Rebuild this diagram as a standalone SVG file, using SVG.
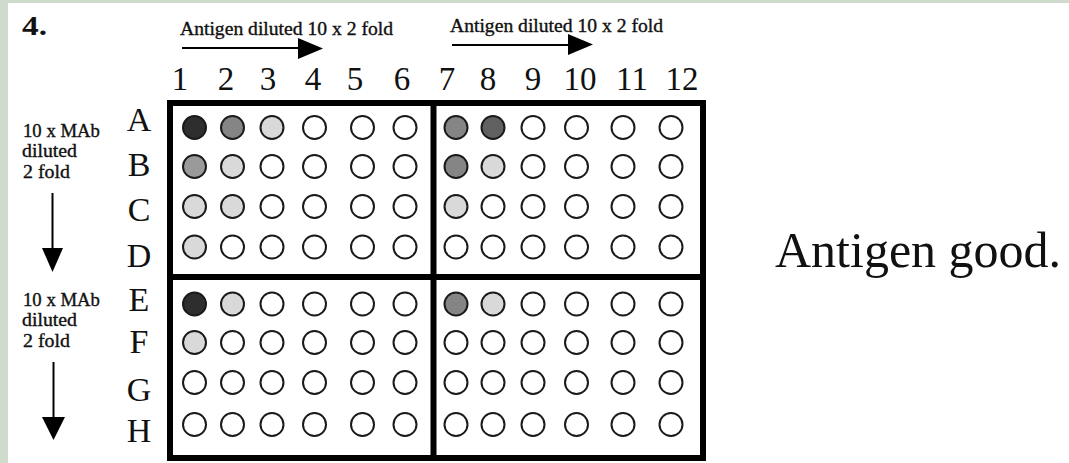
<svg xmlns="http://www.w3.org/2000/svg" width="1069" height="463" viewBox="0 0 1069 463">
<defs>
<style>
.t{font-family:"Liberation Serif","Times New Roman",serif;fill:#111}
.s{font-size:18px;stroke:#111;stroke-width:0.35}
.num{font-size:33px;text-anchor:middle}
.row{font-size:34px;text-anchor:middle}
.w{stroke:#1a1a1a;stroke-width:2;fill:#fff}
.d1{fill:#2e2e2e}
.d2{fill:#606060}
.d3{fill:#858585}
.d4{fill:#9a9a9a}
.lt{fill:#d9d9d9}
.frame{fill:none;stroke:#000;stroke-width:6}
.ln{stroke:#000;stroke-width:2;fill:none}
</style>
</defs>
<rect x="0" y="0" width="1069" height="463" fill="#fff"/>
<rect x="0" y="0" width="1069" height="3" fill="#cfdbcd"/>
<rect x="0" y="0" width="8" height="463" fill="#cfdbcd"/>

<g id="title"><text class="t" x="22" y="35" font-size="28" font-weight="bold" textLength="25" lengthAdjust="spacingAndGlyphs">4.</text></g>

<g id="col-labels" class="t num">
<text x="180" y="90">1</text><text x="226" y="90">2</text><text x="268" y="90">3</text>
<text x="313" y="90">4</text><text x="355" y="90">5</text><text x="402" y="90">6</text>
<text x="447" y="90">7</text><text x="488" y="90">8</text><text x="533" y="90">9</text>
<text x="580" y="90">10</text><text x="632" y="90">11</text><text x="682" y="90">12</text>
</g>

<g id="row-labels" class="t row">
<text x="139" y="131">A</text><text x="139" y="176">B</text><text x="139" y="221">C</text><text x="139" y="267">D</text>
<text x="139" y="311">E</text><text x="139" y="353">F</text><text x="139" y="401">G</text><text x="139" y="442">H</text>
</g>

<g id="antigen-label-1"><text class="t s" x="180" y="35" textLength="213" lengthAdjust="spacingAndGlyphs">Antigen diluted 10 x 2 fold</text></g>
<g id="antigen-label-2"><text class="t s" x="450" y="32" textLength="213" lengthAdjust="spacingAndGlyphs">Antigen diluted 10 x 2 fold</text></g>

<g id="mab-label-1" class="t s">
<text x="23" y="137" textLength="77" lengthAdjust="spacingAndGlyphs">10 x MAb</text>
<text x="22" y="157" textLength="55" lengthAdjust="spacingAndGlyphs">diluted</text>
<text x="23" y="178" textLength="47" lengthAdjust="spacingAndGlyphs">2 fold</text>
</g>
<g id="mab-label-2" class="t s">
<text x="23" y="306" textLength="77" lengthAdjust="spacingAndGlyphs">10 x MAb</text>
<text x="22" y="326" textLength="55" lengthAdjust="spacingAndGlyphs">diluted</text>
<text x="23" y="347" textLength="47" lengthAdjust="spacingAndGlyphs">2 fold</text>
</g>

<g id="connectors">
<line class="ln" x1="182" y1="48" x2="300" y2="48"/>
<polygon points="298,38 323,48.5 298,59" fill="#000"/>
<line class="ln" x1="452" y1="45" x2="570" y2="45"/>
<polygon points="568,34 593,44.5 568,55" fill="#000"/>
<line class="ln" x1="52.5" y1="193" x2="52.5" y2="250"/>
<polygon points="42,248 63,248 52.5,272" fill="#000"/>
<line class="ln" x1="53.5" y1="362" x2="53.5" y2="419"/>
<polygon points="42,417 65,417 53.5,440" fill="#000"/>
</g>

<g id="plate">
<rect class="frame" x="170" y="103" width="533" height="355"/>
<line stroke="#000" stroke-width="6" x1="433.5" y1="103" x2="433.5" y2="458"/>
<line stroke="#000" stroke-width="6" x1="170" y1="277" x2="703" y2="277"/>
</g>

<g id="quadrant-top-left">
<circle class="w d1" cx="194.5" cy="127.5" r="11.5"/><circle class="w d3" cx="232.5" cy="127.5" r="11.5"/><circle class="w lt" cx="272" cy="127.5" r="11.5"/><circle class="w" cx="314.5" cy="127.5" r="11.5"/><circle class="w" cx="362.5" cy="127.5" r="11.5"/><circle class="w" cx="405" cy="127.5" r="11.5"/>
<circle class="w d4" cx="194.5" cy="166.5" r="11.5"/><circle class="w lt" cx="232.5" cy="166.5" r="11.5"/><circle class="w" cx="272" cy="166.5" r="11.5"/><circle class="w" cx="314.5" cy="166.5" r="11.5"/><circle class="w" cx="362.5" cy="166.5" r="11.5"/><circle class="w" cx="405" cy="166.5" r="11.5"/>
<circle class="w lt" cx="194.5" cy="206.5" r="11.5"/><circle class="w lt" cx="232.5" cy="206.5" r="11.5"/><circle class="w" cx="272" cy="206.5" r="11.5"/><circle class="w" cx="314.5" cy="206.5" r="11.5"/><circle class="w" cx="362.5" cy="206.5" r="11.5"/><circle class="w" cx="405" cy="206.5" r="11.5"/>
<circle class="w lt" cx="194.5" cy="247" r="11.5"/><circle class="w" cx="232.5" cy="247" r="11.5"/><circle class="w" cx="272" cy="247" r="11.5"/><circle class="w" cx="314.5" cy="247" r="11.5"/><circle class="w" cx="362.5" cy="247" r="11.5"/><circle class="w" cx="405" cy="247" r="11.5"/>
</g>

<g id="quadrant-top-right">
<circle class="w d3" cx="456" cy="127.5" r="11.5"/><circle class="w d2" cx="493" cy="127.5" r="11.5"/><circle class="w" cx="533" cy="127.5" r="11.5"/><circle class="w" cx="576.5" cy="127.5" r="11.5"/><circle class="w" cx="623" cy="127.5" r="11.5"/><circle class="w" cx="671" cy="127.5" r="11.5"/>
<circle class="w d3" cx="456" cy="166.5" r="11.5"/><circle class="w lt" cx="493" cy="166.5" r="11.5"/><circle class="w" cx="533" cy="166.5" r="11.5"/><circle class="w" cx="576.5" cy="166.5" r="11.5"/><circle class="w" cx="623" cy="166.5" r="11.5"/><circle class="w" cx="671" cy="166.5" r="11.5"/>
<circle class="w lt" cx="456" cy="206.5" r="11.5"/><circle class="w" cx="493" cy="206.5" r="11.5"/><circle class="w" cx="533" cy="206.5" r="11.5"/><circle class="w" cx="576.5" cy="206.5" r="11.5"/><circle class="w" cx="623" cy="206.5" r="11.5"/><circle class="w" cx="671" cy="206.5" r="11.5"/>
<circle class="w" cx="456" cy="247" r="11.5"/><circle class="w" cx="493" cy="247" r="11.5"/><circle class="w" cx="533" cy="247" r="11.5"/><circle class="w" cx="576.5" cy="247" r="11.5"/><circle class="w" cx="623" cy="247" r="11.5"/><circle class="w" cx="671" cy="247" r="11.5"/>
</g>

<g id="quadrant-bottom-left">
<circle class="w d1" cx="194.5" cy="304" r="11.5"/><circle class="w lt" cx="232.5" cy="304" r="11.5"/><circle class="w" cx="272" cy="304" r="11.5"/><circle class="w" cx="314.5" cy="304" r="11.5"/><circle class="w" cx="362.5" cy="304" r="11.5"/><circle class="w" cx="405" cy="304" r="11.5"/>
<circle class="w lt" cx="194.5" cy="342.5" r="11.5"/><circle class="w" cx="232.5" cy="342.5" r="11.5"/><circle class="w" cx="272" cy="342.5" r="11.5"/><circle class="w" cx="314.5" cy="342.5" r="11.5"/><circle class="w" cx="362.5" cy="342.5" r="11.5"/><circle class="w" cx="405" cy="342.5" r="11.5"/>
<circle class="w" cx="194.5" cy="382.5" r="11.5"/><circle class="w" cx="232.5" cy="382.5" r="11.5"/><circle class="w" cx="272" cy="382.5" r="11.5"/><circle class="w" cx="314.5" cy="382.5" r="11.5"/><circle class="w" cx="362.5" cy="382.5" r="11.5"/><circle class="w" cx="405" cy="382.5" r="11.5"/>
<circle class="w" cx="194.5" cy="424.5" r="11.5"/><circle class="w" cx="232.5" cy="424.5" r="11.5"/><circle class="w" cx="272" cy="424.5" r="11.5"/><circle class="w" cx="314.5" cy="424.5" r="11.5"/><circle class="w" cx="362.5" cy="424.5" r="11.5"/><circle class="w" cx="405" cy="424.5" r="11.5"/>
</g>

<g id="quadrant-bottom-right">
<circle class="w d3" cx="456" cy="304" r="11.5"/><circle class="w lt" cx="493" cy="304" r="11.5"/><circle class="w" cx="533" cy="304" r="11.5"/><circle class="w" cx="576.5" cy="304" r="11.5"/><circle class="w" cx="623" cy="304" r="11.5"/><circle class="w" cx="671" cy="304" r="11.5"/>
<circle class="w" cx="456" cy="342.5" r="11.5"/><circle class="w" cx="493" cy="342.5" r="11.5"/><circle class="w" cx="533" cy="342.5" r="11.5"/><circle class="w" cx="576.5" cy="342.5" r="11.5"/><circle class="w" cx="623" cy="342.5" r="11.5"/><circle class="w" cx="671" cy="342.5" r="11.5"/>
<circle class="w" cx="456" cy="382.5" r="11.5"/><circle class="w" cx="493" cy="382.5" r="11.5"/><circle class="w" cx="533" cy="382.5" r="11.5"/><circle class="w" cx="576.5" cy="382.5" r="11.5"/><circle class="w" cx="623" cy="382.5" r="11.5"/><circle class="w" cx="671" cy="382.5" r="11.5"/>
<circle class="w" cx="456" cy="424.5" r="11.5"/><circle class="w" cx="493" cy="424.5" r="11.5"/><circle class="w" cx="533" cy="424.5" r="11.5"/><circle class="w" cx="576.5" cy="424.5" r="11.5"/><circle class="w" cx="623" cy="424.5" r="11.5"/><circle class="w" cx="671" cy="424.5" r="11.5"/>
</g>

<g id="verdict"><text class="t" x="775" y="267" font-size="50">Antigen good.</text></g>
</svg>
